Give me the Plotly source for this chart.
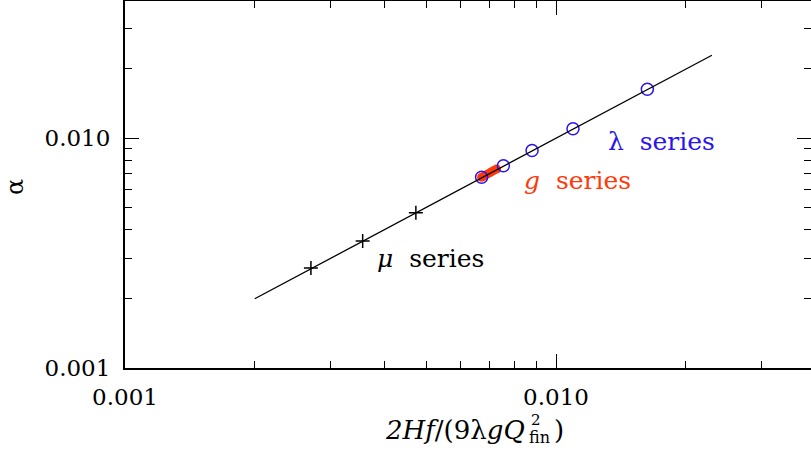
import numpy as np
import plotly.graph_objects as go

# fitted relation (black line)
fit_x = [0.002, 0.023]
fit_y = [0.002, 0.0229]

# mu series (plus signs)
mu_x = [0.0027, 0.00356, 0.00473]
mu_y = [0.00272, 0.00357, 0.00473]

# lambda series (open circles)
lam_x = [0.00672, 0.00755, 0.0088, 0.01095, 0.01629]
lam_y = [0.00675, 0.00757, 0.00882, 0.01097, 0.01630]

# g series (filled red dots)
g_x = [0.00672, 0.00683, 0.00694, 0.00705, 0.00716, 0.00728]
g_y = [0.00675, 0.00686, 0.00698, 0.00709, 0.00721, 0.00733]

FONT = "DejaVu Serif"
BLUE = "#2a14f0"
RED = "#ff3a0a"

fig = go.Figure()
fig.add_trace(go.Scatter(x=g_x, y=g_y, mode="lines+markers",
                         line=dict(color=RED, width=8),
                         marker=dict(color=RED, size=9)))
fig.add_trace(go.Scatter(x=lam_x, y=lam_y, mode="markers",
                         marker=dict(symbol="circle-open", color=BLUE, size=12,
                                     line=dict(width=1.5, color=BLUE))))
fig.add_trace(go.Scatter(x=mu_x, y=mu_y, mode="markers",
                         marker=dict(symbol="cross-thin-open", color="black", size=10,
                                     line=dict(width=1.5, color="black"))))
fig.add_trace(go.Scatter(x=fit_x, y=fit_y, mode="lines",
                         line=dict(color="black", width=1.3)))

minor_vals = [m * 10.0 ** e for e in (-3, -2) for m in range(2, 10)]

axis_common = dict(
    type="log", showgrid=False, zeroline=False, automargin=False,
    showline=True, linecolor="black", linewidth=2, mirror="ticks",
    ticks="inside", ticklen=14, tickwidth=1.3, tickcolor="black",
    tickmode="array", tickvals=[0.001, 0.01], ticktext=["0.001", "0.010"],
    tickfont=dict(family=FONT, size=23, color="black"),
    minor=dict(ticks="inside", ticklen=7, tickwidth=1.3, tickcolor="black",
               tickmode="array", tickvals=minor_vals, showgrid=False),
)

fig.update_xaxes(range=[-3, -3 + 686 / 431], ticklabelstandoff=7, **axis_common)
fig.update_yaxes(range=[-3, -3 + 367 / 230], ticklabelstandoff=8, **axis_common)

anns = [
    dict(x=np.log10(0.01306), y=-2.017, text="λ  series", color=BLUE),
    dict(x=-2.079, y=-2.183, text="<i>g</i>  series", color=RED),
    dict(x=-2.42, y=-2.522, text="<i>μ</i>  series", color="black"),
]
for a in anns:
    fig.add_annotation(x=a["x"], y=a["y"], xref="x", yref="y", text=a["text"],
                       showarrow=False, xanchor="left", yanchor="middle",
                       font=dict(family=FONT, size=25, color=a["color"]))


def px(x):
    return (x - 125) / 686


def py(y):
    return (368 - y) / 367


# x axis title built from pieces so that the 2 and "fin" stack
fig.add_annotation(x=px(527), y=py(430), xref="paper", yref="paper", showarrow=False,
                   xanchor="right", yanchor="middle",
                   text="<i>2Hf</i>/(9λ<i>gQ</i>",
                   font=dict(family=FONT, size=26, color="black"))
fig.add_annotation(x=px(527), y=py(437), xref="paper", yref="paper", showarrow=False,
                   xanchor="left", yanchor="middle", text="fin",
                   font=dict(family=FONT, size=16, color="black"))
fig.add_annotation(x=px(529), y=py(420), xref="paper", yref="paper", showarrow=False,
                   xanchor="left", yanchor="middle", text="2",
                   font=dict(family=FONT, size=15, color="black"))
fig.add_annotation(x=px(552), y=py(430), xref="paper", yref="paper", showarrow=False,
                   xanchor="left", yanchor="middle", text=")",
                   font=dict(family=FONT, size=26, color="black"))
# y axis title
fig.add_annotation(x=px(15), y=py(187), xref="paper", yref="paper",
                   showarrow=False, textangle=-90, text="α",
                   xanchor="center", yanchor="middle",
                   font=dict(family=FONT, size=24, color="black"))

fig.update_layout(
    width=811, height=450, showlegend=False,
    margin=dict(l=125, r=0, t=1, b=82, autoexpand=False),
    plot_bgcolor="white", paper_bgcolor="white",
)

# drop the default page margin so the figure sits at the window corner
fix_page = ("document.body.style.margin='0';document.body.style.overflow='hidden';"
            "Plotly.Plots.resize(document.getElementById('{plot_id}'));")
fig.write_html("out.html", post_script=fix_page, config={"displayModeBar": False})
